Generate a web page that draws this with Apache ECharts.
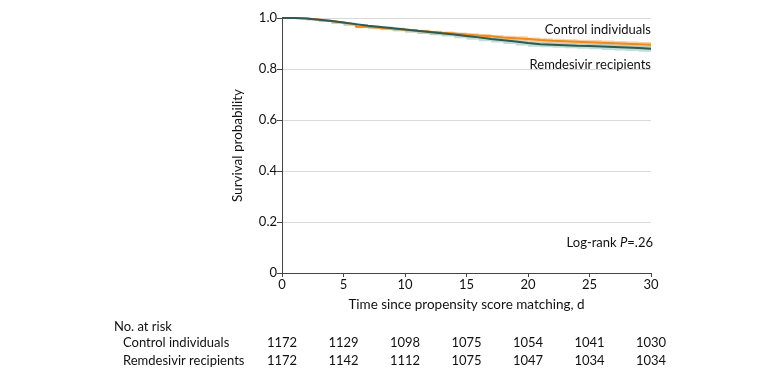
<!DOCTYPE html>
<html>
<head>
<meta charset="utf-8">
<script src="https://cdn.jsdelivr.net/npm/echarts@6/dist/echarts.min.js"></script>
<style>html,body{margin:0;padding:0;background:#fff;}#c{width:780px;height:378px;}</style>
</head>
<body>
<div id="c"></div>
<script>
var days = [0,1,2,3,4,5,6,7,8,9,10,11,12,13,14,15,16,17,18,19,20,21,22,23,24,25,26,27,28,29,30];
var controlSurv = [1.0,0.998,0.994,0.989,0.982,0.975,0.966,0.962,0.959,0.955,0.950,0.946,0.942,0.939,0.935,0.931,0.928,0.924,0.921,0.918,0.914,0.911,0.909,0.907,0.905,0.903,0.901,0.899,0.897,0.895,0.893];
var remdesivirSurv = [1.0,0.998,0.993,0.988,0.982,0.976,0.970,0.965,0.960,0.955,0.950,0.945,0.940,0.935,0.929,0.924,0.918,0.913,0.908,0.902,0.897,0.895,0.893,0.891,0.890,0.888,0.886,0.884,0.882,0.879,0.877];
var controlCIHalf = [0,0.002,0.003,0.004,0.005,0.005,0.006,0.006,0.007,0.007,0.007,0.008,0.008,0.008,0.008,0.009,0.009,0.009,0.009,0.010,0.010,0.010,0.010,0.010,0.010,0.011,0.011,0.011,0.011,0.011,0.011];
var remdesivirCIHalf = [0,0.002,0.003,0.004,0.005,0.005,0.006,0.006,0.007,0.007,0.007,0.008,0.008,0.008,0.008,0.009,0.009,0.009,0.010,0.010,0.010,0.010,0.010,0.010,0.011,0.011,0.011,0.011,0.011,0.011,0.011];
var riskDays = [0,5,10,15,20,25,30];
var controlRisk = [1172,1129,1098,1075,1054,1041,1030];
var remdesivirRisk = [1172,1142,1112,1075,1047,1034,1034];

var FONT = 'Lato';
var orange = '#EE8A1C', teal = '#2E5A52';
function pairs(vals){ return days.map(function(d,i){return [d, vals[i]];}); }

function bandSeries(surv, half, color){
  return {
    type:'custom', silent:true, z:1,
    data:[[0]],
    renderItem:function(params, api){
      var up = [], lo = [];
      for (var i=0;i<days.length;i++){
        var x0 = days[i], x1 = (i<days.length-1)?days[i+1]:days[i];
        up.push(api.coord([x0, surv[i]+half[i]]));
        up.push(api.coord([x1, surv[i]+half[i]]));
        lo.push(api.coord([x0, surv[i]-half[i]]));
        lo.push(api.coord([x1, surv[i]-half[i]]));
      }
      var pts = up.concat(lo.reverse());
      return {type:'polygon', shape:{points:pts}, style:{fill:color}};
    }
  };
}

var chart = echarts.init(document.getElementById('c'), null, {renderer:'canvas'});
chart.setOption({
  animation:false,
  grid:{left:282,right:129,top:18,bottom:105,containLabel:false},
  xAxis:{type:'value',min:0,max:30,interval:5,
    name:'Time since propensity score matching, d',nameLocation:'middle',nameGap:25,
    nameTextStyle:{fontFamily:FONT,fontSize:13.5,color:'#111'},
    axisLine:{lineStyle:{color:'#444',width:1}},
    axisTick:{show:true,length:4,lineStyle:{color:'#444'}},
    axisLabel:{fontFamily:FONT,fontSize:13,color:'#111',margin:5},
    splitLine:{show:false}},
  yAxis:{type:'value',min:0,max:1,interval:0.2,
    name:'Survival probability',nameLocation:'middle',nameGap:37,
    nameTextStyle:{fontFamily:FONT,fontSize:13.5,color:'#111'},
    axisLine:{show:true,lineStyle:{color:'#444',width:1}},
    axisTick:{show:true,length:5,lineStyle:{color:'#444'}},
    axisLabel:{fontFamily:FONT,fontSize:13,color:'#111',margin:5,
      formatter:function(v){return v===0?'0':v.toFixed(1);}},
    splitLine:{show:true,lineStyle:{color:'#d9d9d9',width:1}}},
  series:[
    bandSeries(controlSurv, controlCIHalf, 'rgba(246,178,112,0.6)'),
    bandSeries(remdesivirSurv, remdesivirCIHalf, 'rgba(150,200,192,0.6)'),
    {type:'line',step:'end',symbol:'none',z:3,data:pairs(controlSurv),lineStyle:{color:orange,width:2}},
    {type:'line',step:'end',symbol:'none',z:4,data:pairs(remdesivirSurv),lineStyle:{color:teal,width:2}}
  ]
});

function px(d,v){ return chart.convertToPixel({gridIndex:0},[d,v]); }
var right = px(30,0)[0];
var g = [];
var ts = {fontFamily:FONT,fontSize:13,fill:'#111'};
g.push({type:'text',x:right,y:px(0,0.955)[1],style:Object.assign({text:'Control individuals',align:'right',verticalAlign:'middle'},ts)});
g.push({type:'text',x:right,y:px(0,0.815)[1],style:Object.assign({text:'Remdesivir recipients',align:'right',verticalAlign:'middle'},ts)});
g.push({type:'text',x:right+2,y:px(0,0.12)[1],style:{align:'right',verticalAlign:'middle',rich:{n:{fontFamily:FONT,fontSize:13,fill:'#111'},i:{fontFamily:FONT,fontSize:13,fontStyle:'italic',fill:'#111'}},text:'{n|Log-rank }{i|P}{n|=.26}'}});
var y0 = px(0,0)[1];
g.push({type:'text',x:114,y:y0+54,style:Object.assign({text:'No. at risk',align:'left',verticalAlign:'middle'},ts)});
g.push({type:'text',x:123,y:y0+70,style:Object.assign({text:'Control individuals',align:'left',verticalAlign:'middle'},ts)});
g.push({type:'text',x:123,y:y0+88,style:Object.assign({text:'Remdesivir recipients',align:'left',verticalAlign:'middle'},ts)});
riskDays.forEach(function(d,i){
  var x = px(d,0)[0];
  g.push({type:'text',x:x,y:y0+70,style:Object.assign({text:String(controlRisk[i]),align:'center',verticalAlign:'middle'},ts)});
  g.push({type:'text',x:x,y:y0+88,style:Object.assign({text:String(remdesivirRisk[i]),align:'center',verticalAlign:'middle'},ts)});
});
chart.setOption({graphic:g});
</script>
</body>
</html>
